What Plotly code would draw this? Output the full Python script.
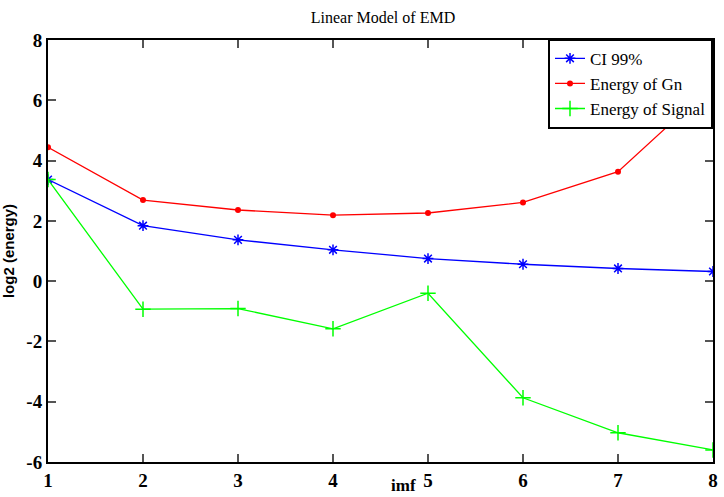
import plotly.graph_objects as go

imf = [1, 2, 3, 4, 5, 6, 7, 8]
ci99 = [3.37, 1.84, 1.37, 1.04, 0.75, 0.56, 0.42, 0.32]
energy_gn = [4.44, 2.69, 2.36, 2.19, 2.26, 2.61, 3.63, 6.52]
energy_signal = [3.37, -0.93, -0.91, -1.58, -0.40, -3.87, -5.03, -5.60]

x_ticks = [1, 2, 3, 4, 5, 6, 7, 8]
y_ticks = [-6, -4, -2, 0, 2, 4, 6, 8]

serif = "Times New Roman, Liberation Serif, serif"
sans = "Arial, Liberation Sans, sans-serif"

fig = go.Figure()
fig.add_trace(go.Scatter(
    x=imf, y=ci99, mode="lines+markers", name="CI 99%",
    line=dict(color="#0000ff", width=1.3),
    marker=dict(symbol="asterisk-open", size=9, color="#0000ff", line=dict(color="#0000ff", width=1.5)),
))
fig.add_trace(go.Scatter(
    x=imf, y=energy_gn, mode="lines+markers", name="Energy of Gn",
    line=dict(color="#ff0000", width=1.3),
    marker=dict(symbol="circle", size=6, color="#ff0000"),
))
fig.add_trace(go.Scatter(
    x=imf, y=energy_signal, mode="lines+markers", name="Energy of Signal",
    line=dict(color="#00ff00", width=1.3),
    marker=dict(symbol="cross-thin-open", size=11, color="#00ff00", line=dict(color="#00ff00", width=1.5)),
))

fig.update_layout(
    width=724, height=497,
    margin=dict(l=48, r=6, t=40, b=35),
    paper_bgcolor="white", plot_bgcolor="white",
    font=dict(family=serif, color="black"),
    title=dict(text="Linear Model of EMD", x=0.529, xanchor="center", y=0.965, yanchor="middle",
               font=dict(family=serif, size=16, color="black")),
    showlegend=True,
    legend=dict(x=1.0, xanchor="right", y=1.003, yanchor="top",
                bgcolor="white", bordercolor="black", borderwidth=2,
                font=dict(family=serif, size=17, color="black"),
                itemwidth=30, tracegroupgap=0),
    xaxis=dict(range=[1, 8], tickvals=x_ticks, ticktext=[str(v) for v in x_ticks],
               ticks="inside", ticklen=8, tickcolor="#555555", tickwidth=1.5,
               showline=True, linecolor="black", linewidth=2, mirror="ticks",
               showgrid=False, zeroline=False,
               tickfont=dict(family=serif, size=19, color="black", weight="bold")),
    yaxis=dict(range=[-6, 8], tickvals=y_ticks, ticktext=[str(v) for v in y_ticks],
               ticks="inside", ticklen=8, tickcolor="#555555", tickwidth=1.5,
               showline=True, linecolor="black", linewidth=2, mirror="ticks",
               showgrid=False, zeroline=False,
               tickfont=dict(family=serif, size=19, color="black", weight="bold"),
               title=dict(text="log2 (energy)", standoff=10,
                          font=dict(family=sans, size=15, color="black", weight="bold"))),
    annotations=[dict(text="imf", xref="paper", yref="paper", x=0.535, y=-0.055,
                      xanchor="center", yanchor="middle", showarrow=False,
                      font=dict(family=serif, size=17, color="black", weight="bold"))],
)

fig.write_html("out.html")
